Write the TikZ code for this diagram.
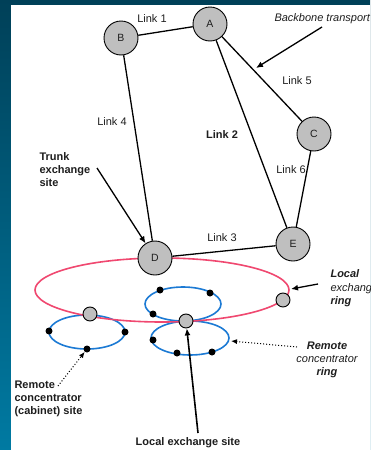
\documentclass[tikz,border=0pt]{standalone}
\usepackage{fontspec}
\setmainfont{Liberation Sans}
\usetikzlibrary{arrows.meta}

\definecolor{fondhaut}{RGB}{0,64,88}
\definecolor{fondbas}{RGB}{0,122,162}
\definecolor{anneau}{RGB}{240,72,112}
\definecolor{boucle}{RGB}{28,122,212}
\definecolor{texte}{RGB}{30,30,30}

\tikzset{
  site/.style={circle, draw=black, fill=gray!50, line width=0.9pt, minimum size=34pt,
    inner sep=0pt, text=texte, font=\fontsize{10.5}{12}\selectfont},
  relais/.style={circle, draw=black, fill=gray!50, line width=0.9pt, minimum size=14pt, inner sep=0pt},
  point/.style={circle, fill=black, minimum size=7pt, inner sep=0pt},
  lien/.style={line width=1.3pt},
  etiq/.style={text=texte, font=\fontsize{11}{13}\selectfont},
  fleche/.style={line width=1.3pt, -{Latex[length=7pt,width=6pt]}},
  pointille/.style={line width=1pt, dotted, -{Latex[length=6pt,width=5pt]}},
}

\begin{document}
\begin{tikzpicture}[x=1pt, y=-1pt]
  % Fond
  \shade[top color=fondhaut, bottom color=fondbas] (0,0) rectangle (370,450);
  \fill[white] (11,5) rectangle (370,450);
  \useasboundingbox (0,0) rectangle (370,450);
  \clip (0,0) rectangle (370,450);

  % Boucles de concentrateurs
  \draw[boucle, line width=1.6pt] (87,332) ellipse [x radius=38pt, y radius=17pt];
  \draw[boucle, line width=1.6pt] (183,304) ellipse [x radius=38pt, y radius=17pt];
  \draw[boucle, line width=1.6pt] (190,338) ellipse [x radius=39pt, y radius=17pt];

  % Anneau local
  \draw[anneau, line width=1.6pt] (162,290) ellipse [x radius=127pt, y radius=32pt];

  % Sites du reseau de transport
  \node[site] (A) at (210,24) {A};
  \node[site] (B) at (121,38) {B};
  \node[site] (C) at (314,134) {C};
  \node[site] (D) at (155,258) {D};
  \node[site] (E) at (293,244) {E};

  % Liens
  \draw[lien] (B) -- (A);
  \draw[lien] (A) -- (E);
  \draw[lien] (D) -- (E);
  \draw[lien] (B) -- (D);
  \draw[lien] (A) -- (C);
  \draw[lien] (C) -- (E);
  \node[etiq] (l1) at (152,19) {Link 1};
  \node[etiq, font=\fontsize{11}{13}\selectfont\bfseries] (l2) at (222,135) {Link 2};
  \node[etiq] (l3) at (222,238) {Link 3};
  \node[etiq] (l4) at (112,122) {Link 4};
  \node[etiq] (l5) at (297,81) {Link 5};
  \node[etiq] (l6) at (291,170) {Link 6};

  % Relais sur l'anneau
  \node[relais] (r1) at (90,314) {};
  \node[relais] (r2) at (186,321) {};
  \node[relais] (r3) at (283,300) {};

  % Concentrateurs
  \node[point] (g1) at (49,331) {};
  \node[point] (g2) at (125,332) {};
  \node[point] (g3) at (87,349) {};
  \node[point] (h1) at (160,290) {};
  \node[point] (h2) at (210,293) {};
  \node[point] (h3) at (153,314) {};
  \node[point] (k1) at (153,340) {};
  \node[point] (k2) at (177,353) {};
  \node[point] (k3) at (212,352) {};

  % Legendes et fleches
  \node[etiq, font=\fontsize{11}{13}\selectfont\itshape, anchor=west] (backbone) at (271,19) {Backbone transport};
  \coordinate (bb-queue) at (322,27);
  \coordinate (bb-pointe) at (256,68);
  \draw[fleche] (bb-queue) -- (bb-pointe);

  \node[etiq, font=\fontsize{11}{13}\selectfont\bfseries, align=left, anchor=north west] (trunk) at (36,149) {Trunk\\exchange\\site};
  \coordinate (tr-queue) at (97,168);
  \draw[fleche] (tr-queue) -- (D);

  \node[etiq, align=left, anchor=north west, font=\fontsize{11}{13.5}\selectfont\itshape] (ring) at (327,266)
    {\bfseries Local\\exchange\\\bfseries ring};
  \coordinate (rg-queue) at (318,284);
  \coordinate (rg-pointe) at (291,289);
  \draw[fleche] (rg-queue) -- (rg-pointe);

  \node[etiq, align=center, anchor=north, font=\fontsize{11}{13}\selectfont\itshape] (rcring) at (327,338)
    {\bfseries Remote\\concentrator\\\bfseries ring};
  \coordinate (rc-queue) at (297,347);
  \coordinate (rc-pointe) at (231,341);
  \draw[pointille] (rc-queue) -- (rc-pointe);

  \node[etiq, font=\fontsize{11}{13}\selectfont\bfseries, align=left, anchor=north west] (cabinet) at (11,377)
    {Remote\\concentrator\\(cabinet) site};
  \coordinate (cb-queue) at (58,386);
  \draw[pointille] (cb-queue) -- (g3);

  \node[etiq, font=\fontsize{11}{13}\selectfont\bfseries] (lsite) at (188,443) {Local exchange site};
  \coordinate (ls-queue) at (198,433);
  \draw[fleche, line width=1.6pt] (ls-queue) -- (r2);
\end{tikzpicture}
\end{document}
